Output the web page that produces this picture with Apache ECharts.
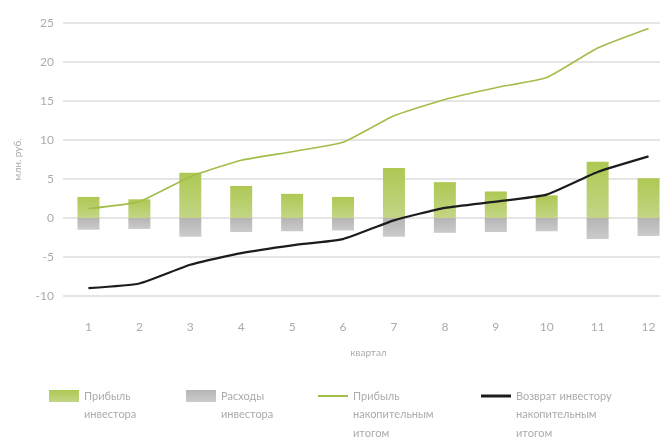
<!DOCTYPE html>
<html lang="ru">
<head>
<meta charset="UTF-8">
<title>Прибыль инвестора</title>
<style>
    * { margin: 0; padding: 0; }
    #chart { width: 660px; height: 440px; background: #fff; }
</style>
<script src="https://cdn.jsdelivr.net/npm/echarts@6/dist/echarts.min.js"></script>
</head>
<body>
<div id="chart"></div>
<script>
var quarters = ['1', '2', '3', '4', '5', '6', '7', '8', '9', '10', '11', '12'];
var profit = [2.7, 2.4, 5.8, 4.1, 3.1, 2.7, 6.4, 4.6, 3.4, 2.9, 7.2, 5.1];      // прибыль инвестора
var costs = [-1.5, -1.4, -2.4, -1.8, -1.7, -1.6, -2.4, -1.9, -1.8, -1.7, -2.7, -2.3]; // расходы
var profitCum = [1.2, 2.1, 5.3, 7.4, 8.5, 9.7, 13.1, 15.2, 16.7, 18.0, 21.8, 24.3];
var returnCum = [-9.0, -8.4, -6.0, -4.5, -3.5, -2.7, -0.3, 1.3, 2.1, 3.0, 5.9, 7.9];

var names = ['Прибыль инвестора', 'Расходы инвестора', 'Прибыль накопительным итогом', 'Возврат инвестору накопительным итогом'];
var legendLines = {
    'Прибыль инвестора': ['Прибыль', 'инвестора'],
    'Расходы инвестора': ['Расходы', 'инвестора'],
    'Прибыль накопительным итогом': ['Прибыль', 'накопительным', 'итогом'],
    'Возврат инвестору накопительным итогом': ['Возврат инвестору', 'накопительным', 'итогом']
};

var font = 'Lato, "Open Sans", sans-serif';
var grey = '#ababab';
var lh = 18.5;

// одна легенда на элемент; пустые строки сверху ставят первую строку текста вровень со значком
function legendItem(name, left, iconH) {
    var lines = legendLines[name];
    var pad = [];
    for (var i = 1; i < lines.length; i++) pad.push('');
    return {
        left: left,
        top: 391 - (lines.length - 0.5) * lh,
        data: [name],
        icon: 'rect',
        itemWidth: 30,
        itemHeight: iconH,
        itemGap: 0,
        selectedMode: false,
        formatter: function () { return pad.concat(lines).join('\n'); },
        textStyle: { color: grey, fontFamily: font, fontSize: 11, lineHeight: lh }
    };
}

var chart = echarts.init(document.getElementById('chart'));
chart.setOption({
    animation: false,
    grid: { left: 63, width: 611, top: 23, bottom: 144, outerBoundsMode: 'none' },
    legend: [
        legendItem(names[0], 44, 12),
        legendItem(names[1], 181, 12),
        legendItem(names[2], 313, 2),
        legendItem(names[3], 476, 3)
    ],
    xAxis: {
        type: 'category',
        data: quarters,
        name: 'квартал',
        nameLocation: 'middle',
        nameGap: 52,
        nameTextStyle: { color: grey, fontFamily: font, fontSize: 10 },
        axisLine: { show: false },
        axisTick: { show: false },
        axisLabel: { color: grey, fontFamily: font, fontSize: 12, margin: 25 }
    },
    yAxis: {
        type: 'value',
        min: -10,
        max: 25,
        interval: 5,
        name: 'млн. руб.',
        nameLocation: 'middle',
        nameGap: 40,
        nameTextStyle: { color: grey, fontFamily: font, fontSize: 10 },
        axisLine: { show: false },
        axisTick: { show: false },
        axisLabel: { color: grey, fontFamily: font, fontSize: 12, margin: 9 },
        splitLine: { lineStyle: { color: '#dcdcdc', width: 1.5 } }
    },
    series: [
        {
            name: names[0],
            type: 'bar',
            stack: 'bars',
            barWidth: 22,
            data: profit,
            itemStyle: {
                color: new echarts.graphic.LinearGradient(0, 0, 0, 1, [
                    { offset: 0, color: '#aec853' },
                    { offset: 1, color: '#c3d585' }
                ])
            }
        },
        {
            name: names[1],
            type: 'bar',
            stack: 'bars',
            barWidth: 22,
            data: costs,
            itemStyle: {
                color: new echarts.graphic.LinearGradient(0, 0, 0, 1, [
                    { offset: 0, color: '#b5b5b5' },
                    { offset: 1, color: '#cbcbcb' }
                ])
            }
        },
        {
            name: names[2],
            type: 'line',
            data: profitCum,
            symbol: 'none',
            smooth: 0.15,
            lineStyle: { color: '#a3bd4a', width: 1.6 },
            itemStyle: { color: '#a3bd4a' },
            z: 3
        },
        {
            name: names[3],
            type: 'line',
            data: returnCum,
            symbol: 'none',
            smooth: 0.15,
            lineStyle: { color: '#1c1c1c', width: 2.2 },
            itemStyle: { color: '#1c1c1c' },
            z: 4
        }
    ]
});
</script>
</body>
</html>
